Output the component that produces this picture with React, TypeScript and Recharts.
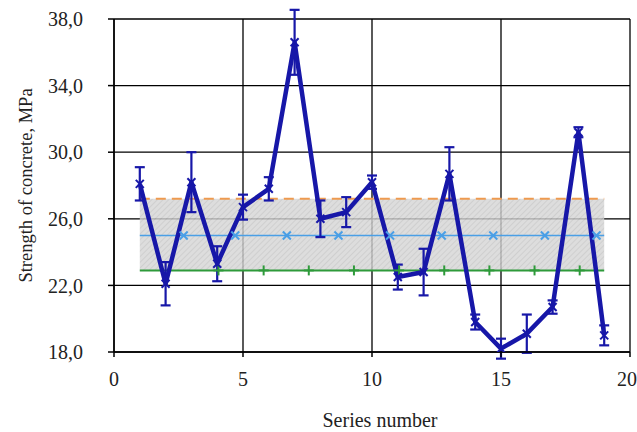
import {
  ComposedChart,
  Line,
  ErrorBar,
  XAxis,
  YAxis,
  CartesianGrid,
  ReferenceArea
} from "recharts";

// series number and measured strength, MPa
const seriesNo = [1, 2, 3, 4, 5, 6, 7, 8, 9, 10, 11, 12, 13, 14, 15, 16, 17, 18, 19];
const strength = [28.1, 22.1, 28.2, 23.3, 26.7, 27.8, 36.6, 26.0, 26.4, 28.2, 22.5, 22.8, 28.7, 19.8, 18.2, 19.1, 20.7, 31.2, 19.0];
const spread = [1.0, 1.3, 1.8, 1.05, 0.75, 0.7, 1.95, 1.1, 0.9, 0.4, 0.75, 1.4, 1.6, 0.45, 0.6, 1.15, 0.4, 0.3, 0.6];

// band limits
const upperLimit = 27.2;
const meanValue = 25.0;
const lowerLimit = 22.9;
const bandStart = 1;
const bandEnd = 19;
const meanMarks = [2.7, 4.7, 6.7, 8.7, 10.7, 12.7, 14.7, 16.7, 18.7];
const lowerMarks = [4.05, 5.8, 7.55, 9.3, 11.05, 12.8, 14.55, 16.3, 18.05];

const xTicks = [0, 5, 10, 15, 20];
const yTicks = [18, 22, 26, 30, 34, 38];

const mainData = seriesNo.map((n, i) => ({ x: n, y: strength[i], err: spread[i] }));
const upperData = [{ x: bandStart, y: upperLimit }, { x: bandEnd, y: upperLimit }];
const meanData = [bandStart, ...meanMarks, bandEnd].map((x) => ({ x, y: meanValue }));
const lowerData = [bandStart, ...lowerMarks, bandEnd].map((x) => ({ x, y: lowerLimit }));

const font = "Liberation Serif";
const BLUE = "#1717a8";

function CrossDot(props: any) {
  const { cx, cy, index, color, last } = props;
  if (cx == null || index === 0 || (last != null && index === last)) return <g key={`d${index}`} />;
  const s = 4;
  return (
    <g key={`d${index}`}>
      <line x1={cx - s} y1={cy - s} x2={cx + s} y2={cy + s} stroke={color} strokeWidth={2} />
      <line x1={cx - s} y1={cy + s} x2={cx + s} y2={cy - s} stroke={color} strokeWidth={2} />
    </g>
  );
}

function PlusDot(props: any) {
  const { cx, cy, index, color, last } = props;
  if (cx == null || index === 0 || index === last) return <g key={`p${index}`} />;
  const s = 5;
  return (
    <g key={`p${index}`}>
      <line x1={cx - s} y1={cy} x2={cx + s} y2={cy} stroke={color} strokeWidth={2} />
      <line x1={cx} y1={cy - s} x2={cx} y2={cy + s} stroke={color} strokeWidth={2} />
    </g>
  );
}

export default function App() {
  return (
    <div
      style={{
        position: "absolute",
        left: 0,
        top: 0,
        width: 637,
        height: 432,
        background: "#fff",
        fontFamily: font
      }}
    >
      <ComposedChart
        width={637}
        height={432}
        margin={{ top: 19, right: 7, bottom: 0, left: 0 }}
        style={{ fontFamily: font }}
      >
        <defs>
          <pattern id="hatch" width="4" height="4" patternUnits="userSpaceOnUse" patternTransform="rotate(45)">
            <rect width="4" height="4" fill="#d4d4d4" />
            <line x1="0" y1="0" x2="0" y2="4" stroke="#bdbdbd" strokeWidth="1.5" />
          </pattern>
        </defs>

        <ReferenceArea
          x1={bandStart}
          x2={bandEnd}
          y1={lowerLimit}
          y2={upperLimit}
          fill="url(#hatch)"
          fillOpacity={0.8}
          stroke="none"
        />

        <CartesianGrid stroke="#000" strokeWidth={1.3} />

        <XAxis
          type="number"
          dataKey="x"
          domain={[0, 20]}
          ticks={xTicks}
          height={80}
          tickSize={5}
          tickMargin={15}
          axisLine={{ stroke: "#000", strokeWidth: 1.5 }}
          tickLine={{ stroke: "#000", strokeWidth: 1.5 }}
          tick={{ fill: "#222", fontSize: 20, fontFamily: font }}
          label={{
            value: "Series number",
            position: "insideBottom",
            offset: 5,
            dx: 8,
            style: { fill: "#222", fontSize: 20, fontFamily: font }
          }}
        />

        <YAxis
          type="number"
          domain={[18, 38]}
          ticks={yTicks}
          allowDataOverflow
          width={114}
          tickSize={6}
          tickMargin={25}
          axisLine={{ stroke: "#000", strokeWidth: 1.5 }}
          tickLine={{ stroke: "#000", strokeWidth: 1.5 }}
          tickFormatter={(v: number) => v.toFixed(1).replace(".", ",")}
          tick={{ fill: "#222", fontSize: 20, fontFamily: font }}
          label={{
            value: "Strength of concrete, MPa",
            angle: -90,
            position: "insideLeft",
            offset: 25,
            style: { fill: "#222", fontSize: 18.5, fontFamily: font, textAnchor: "middle" }
          }}
        />

        <Line
          data={upperData}
          dataKey="y"
          stroke="#ee9a4f"
          strokeWidth={2}
          strokeDasharray="10 6"
          dot={false}
          isAnimationActive={false}
        />
        <Line
          data={meanData}
          dataKey="y"
          stroke="#4a9fe6"
          strokeWidth={1.5}
          dot={(p: any) => <CrossDot {...p} color="#4a9fe6" last={meanData.length - 1} />}
          isAnimationActive={false}
        />
        <Line
          data={lowerData}
          dataKey="y"
          stroke="#2e9a3a"
          strokeWidth={2}
          dot={(p: any) => <PlusDot {...p} color="#2e9a3a" last={lowerData.length - 1} />}
          isAnimationActive={false}
        />

        <Line
          data={mainData}
          dataKey="y"
          type="linear"
          stroke={BLUE}
          strokeWidth={4.5}
          strokeLinejoin="round"
          dot={(p: any) => <CrossDot {...p} index={p.index + 1} color={BLUE} />}
          isAnimationActive={false}
        >
          <ErrorBar dataKey="err" width={5} stroke={BLUE} strokeWidth={2.2} direction="y" />
        </Line>
      </ComposedChart>
    </div>
  );
}
